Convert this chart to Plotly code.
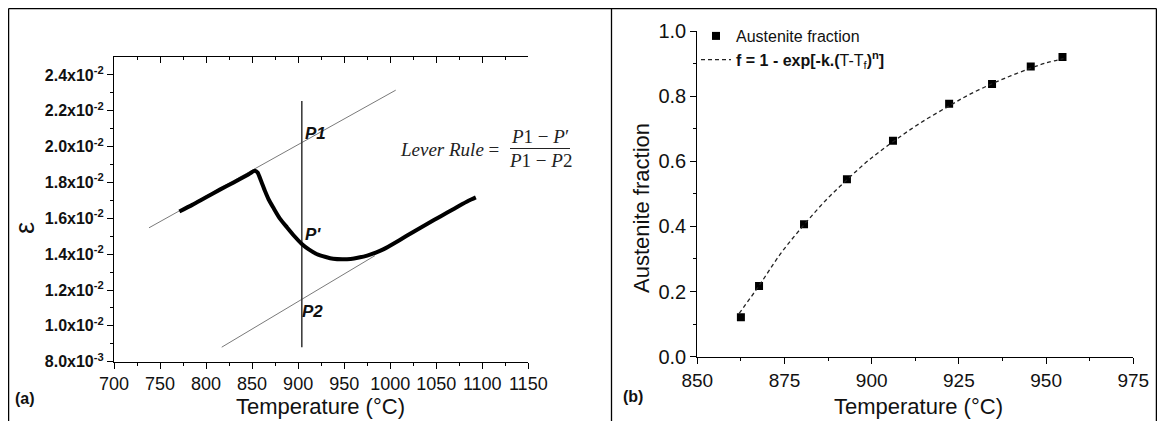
import plotly.graph_objects as go

# The page keeps its default 8px body margin, so the figure is 16px smaller
# than the window and every reference pixel position is shifted by 8px.
PAGE_W, PAGE_H = 1165, 429
OFF = 8
W, H = PAGE_W - 2 * OFF, PAGE_H - 2 * OFF

# ---------------- Panel (a) data: dilatometric curve ----------------
curve_T = [771, 785, 800, 815, 830, 845, 853, 856, 860, 864, 868, 873, 880, 888,
           896, 904, 912, 920, 930, 938, 948, 957, 966, 975, 985, 993, 1010, 1025,
           1040, 1055, 1070, 1085, 1093]
curve_eps = [0.01638, 0.01675, 0.01718, 0.01760, 0.01800, 0.01842, 0.01865, 0.01855,
             0.01805, 0.01752, 0.01705, 0.01660, 0.01600, 0.01549, 0.01500, 0.01457,
             0.01425, 0.01401, 0.01384, 0.01374, 0.01371, 0.01373, 0.01381, 0.01392,
             0.01410, 0.01428, 0.01478, 0.01524, 0.01568, 0.01612, 0.01655, 0.01698,
             0.01717]
upper_T = [738, 1006]
upper_eps = [0.01547, 0.02315]
lower_T = [817, 983.5]
lower_eps = [0.00881, 0.01392]
vert_T = [904, 904]
vert_eps = [0.0088, 0.02255]

a_xticks = [700, 750, 800, 850, 900, 950, 1000, 1050, 1100, 1150]
a_xminor = [725, 775, 825, 875, 925, 975, 1025, 1075, 1125]
a_yticks = [0.008, 0.010, 0.012, 0.014, 0.016, 0.018, 0.020, 0.022, 0.024]
a_yminor = [0.009, 0.011, 0.013, 0.015, 0.017, 0.019, 0.021, 0.023]
a_yticktext = ["8.0x10<sup>-3</sup>", "1.0x10<sup>-2</sup>", "1.2x10<sup>-2</sup>",
               "1.4x10<sup>-2</sup>", "1.6x10<sup>-2</sup>", "1.8x10<sup>-2</sup>",
               "2.0x10<sup>-2</sup>", "2.2x10<sup>-2</sup>", "2.4x10<sup>-2</sup>"]

# ---------------- Panel (b) data: austenite fraction ----------------
meas_T = [862.5, 867.7, 880.6, 892.9, 906.1, 922.2, 934.5, 945.6, 954.7]
meas_f = [0.121, 0.217, 0.407, 0.545, 0.663, 0.777, 0.837, 0.891, 0.920]
fit_T = [862.0, 867.7, 874.0, 880.6, 887.0, 892.9, 899.0, 906.1, 914.0, 922.2,
         928.0, 934.5, 940.0, 945.6, 950.0, 955.0]
fit_f = [0.133, 0.218, 0.318, 0.405, 0.482, 0.543, 0.602, 0.660, 0.718, 0.770,
         0.805, 0.838, 0.863, 0.886, 0.902, 0.915]
b_xticks = [850, 875, 900, 925, 950, 975]
b_xminor = [862.5, 887.5, 912.5, 937.5, 962.5]
b_yticks = [0.0, 0.2, 0.4, 0.6, 0.8, 1.0]
b_yminor = [0.1, 0.3, 0.5, 0.7, 0.9]

FONT = "Liberation Sans, Arial, sans-serif"
SERIF = "Liberation Serif, Times New Roman, serif"


def px(x):
    """page pixel x -> paper fraction"""
    return (x - OFF) / W


def py(y):
    """page pixel y -> paper fraction"""
    return 1 - (y - OFF) / H


fig = go.Figure()

# panel (a) traces
fig.add_trace(go.Scatter(x=upper_T, y=upper_eps, mode="lines", xaxis="x", yaxis="y",
                         line=dict(color="#7a7a7a", width=1), showlegend=False, hoverinfo="skip"))
fig.add_trace(go.Scatter(x=lower_T, y=lower_eps, mode="lines", xaxis="x", yaxis="y",
                         line=dict(color="#7a7a7a", width=1), showlegend=False, hoverinfo="skip"))
fig.add_trace(go.Scatter(x=vert_T, y=vert_eps, mode="lines", xaxis="x", yaxis="y",
                         line=dict(color="#333333", width=1.5), showlegend=False, hoverinfo="skip"))
fig.add_trace(go.Scatter(x=curve_T, y=curve_eps, mode="lines", xaxis="x", yaxis="y",
                         line=dict(color="#000000", width=4, shape="spline", smoothing=0.6),
                         showlegend=False))
# dummy trace so the top axis line with inward ticks is drawn
fig.add_trace(go.Scatter(x=[None], y=[None], xaxis="x3", yaxis="y", showlegend=False,
                         hoverinfo="skip"))

# panel (b) traces
fig.add_trace(go.Scatter(x=meas_T, y=meas_f, mode="markers", xaxis="x2", yaxis="y2",
                         name="Austenite fraction",
                         marker=dict(symbol="square", size=8, color="#000000")))
fig.add_trace(go.Scatter(x=fit_T, y=fit_f, mode="lines", xaxis="x2", yaxis="y2",
                         name="<b>f = 1 - exp[-k.(</b>T-T<sub>f</sub><b>)<sup>n</sup>]</b>",
                         line=dict(color="#222222", width=1.3, dash="4px,3px", shape="spline")))

axis_common = dict(showline=True, linecolor="#000000", linewidth=1.2, showgrid=False,
                   zeroline=False, ticks="outside", tickcolor="#000000", tickwidth=1.2,
                   ticklen=6, automargin=False)
minor_out = dict(ticks="outside", ticklen=3, tickwidth=1, tickcolor="#000")

fig.update_layout(
    width=W, height=H,
    margin=dict(l=0, r=0, t=0, b=0, autoexpand=False),
    paper_bgcolor="white", plot_bgcolor="white",
    font=dict(family=FONT, color="#111111"),
    xaxis=dict(domain=[px(114), px(528.3)], range=[700, 1150], anchor="y",
               tickvals=a_xticks, tickfont=dict(size=18, family=FONT),
               minor=dict(tickvals=a_xminor, **minor_out), **axis_common),
    xaxis3=dict(overlaying="x", side="top", anchor="y", range=[700, 1150],
                showline=True, linecolor="#000000", linewidth=1.2, showgrid=False,
                zeroline=False, ticks="inside", tickcolor="#000000", tickwidth=1.2,
                ticklen=6, tickvals=a_xticks, showticklabels=False, automargin=False,
                minor=dict(tickvals=a_xminor, ticks="inside", ticklen=3, tickwidth=1,
                           tickcolor="#000")),
    yaxis=dict(domain=[py(361.7), py(57)], range=[0.008, 0.025], anchor="x",
               tickvals=a_yticks, ticktext=["<b>" + t + "</b>" for t in a_yticktext],
               tickfont=dict(size=16, family=FONT),
               minor=dict(tickvals=a_yminor, **minor_out), **axis_common),
    xaxis2=dict(domain=[px(697.3), px(1133.3)], range=[850, 975], anchor="y2",
                tickvals=b_xticks, tickfont=dict(size=19, family=FONT),
                minor=dict(tickvals=b_xminor, **minor_out), **axis_common),
    yaxis2=dict(domain=[py(356.7), py(31)], range=[0, 1.0], anchor="x2",
                tickvals=b_yticks, ticktext=["%.1f" % v for v in b_yticks],
                tickfont=dict(size=20, family=FONT),
                minor=dict(tickvals=b_yminor, **minor_out), **axis_common),
    showlegend=True,
    legend=dict(x=px(696), y=py(19), xanchor="left", yanchor="top",
                bgcolor="rgba(0,0,0,0)", font=dict(size=16, family=FONT, color="#111"),
                tracegroupgap=0, itemwidth=30),
)

ann = []
# axis titles
ann.append(dict(text="Temperature (°C)", x=px(320), y=py(406), xref="paper", yref="paper",
                showarrow=False, font=dict(size=22, family=FONT), xanchor="center", yanchor="middle"))
ann.append(dict(text="Temperature (°C)", x=px(918), y=py(406), xref="paper", yref="paper",
                showarrow=False, font=dict(size=22, family=FONT), xanchor="center", yanchor="middle"))
ann.append(dict(text="ε", x=px(25), y=py(228), xref="paper", yref="paper", textangle=-90,
                showarrow=False, font=dict(size=27, family=FONT), xanchor="center", yanchor="middle"))
ann.append(dict(text="Austenite fraction", x=px(642), y=py(208), xref="paper", yref="paper",
                textangle=-90, showarrow=False, font=dict(size=22, family=FONT),
                xanchor="center", yanchor="middle"))
# panel labels
ann.append(dict(text="<b>(a)</b>", x=px(25), y=py(398), xref="paper", yref="paper",
                showarrow=False, font=dict(size=16, family=FONT), xanchor="center", yanchor="middle"))
ann.append(dict(text="<b>(b)</b>", x=px(633), y=py(396), xref="paper", yref="paper",
                showarrow=False, font=dict(size=16, family=FONT), xanchor="center", yanchor="middle"))
# point labels
for lab, yv, xv in [("P1", 0.02073, 905.3), ("P'", 0.01509, 905.3), ("P2", 0.01080, 901.5)]:
    ann.append(dict(text="<b><i>" + lab + "</i></b>", x=xv, y=yv, xref="x", yref="y",
                    showarrow=False, font=dict(size=17, family=FONT, color="#111"),
                    xanchor="left", yanchor="middle"))
# lever rule formula
ann.append(dict(text="<i>Lever Rule</i> =", x=px(501), y=py(149), xref="paper", yref="paper",
                showarrow=False, font=dict(size=19, family=SERIF, color="#222"),
                xanchor="right", yanchor="middle"))
ann.append(dict(text="<i>P</i>1 − <i>P</i>′", x=px(540), y=py(137), xref="paper", yref="paper",
                showarrow=False, font=dict(size=19, family=SERIF, color="#222"),
                xanchor="center", yanchor="middle"))
ann.append(dict(text="<i>P</i>1 − <i>P</i>2", x=px(540), y=py(160), xref="paper", yref="paper",
                showarrow=False, font=dict(size=19, family=SERIF, color="#222"),
                xanchor="center", yanchor="middle"))
fig.update_layout(annotations=ann)

shapes = []
line_k = dict(color="#000000", width=1.3)
# outer frame (open at the bottom) and the divider between the panels
x_left, x_right, y_top = max(px(3), 0.6 / W), min(px(1160), 1 - 0.6 / W), min(py(6), 1 - 0.6 / H)
shapes.append(dict(type="line", xref="paper", yref="paper", x0=x_left, x1=x_right,
                   y0=y_top, y1=y_top, line=line_k))
shapes.append(dict(type="line", xref="paper", yref="paper", x0=x_left, x1=x_left,
                   y0=y_top, y1=-0.1, line=line_k))
shapes.append(dict(type="line", xref="paper", yref="paper", x0=x_right, x1=x_right,
                   y0=y_top, y1=-0.1, line=line_k))
shapes.append(dict(type="line", xref="paper", yref="paper", x0=px(611.5), x1=px(611.5),
                   y0=y_top, y1=-0.1, line=line_k))
# fraction bar of the lever-rule formula
shapes.append(dict(type="line", xref="paper", yref="paper", x0=px(510), x1=px(570),
                   y0=py(148.5), y1=py(148.5), line=dict(color="#222", width=1)))
fig.update_layout(shapes=shapes)

fig.write_html("out.html", config={"displayModeBar": False})
